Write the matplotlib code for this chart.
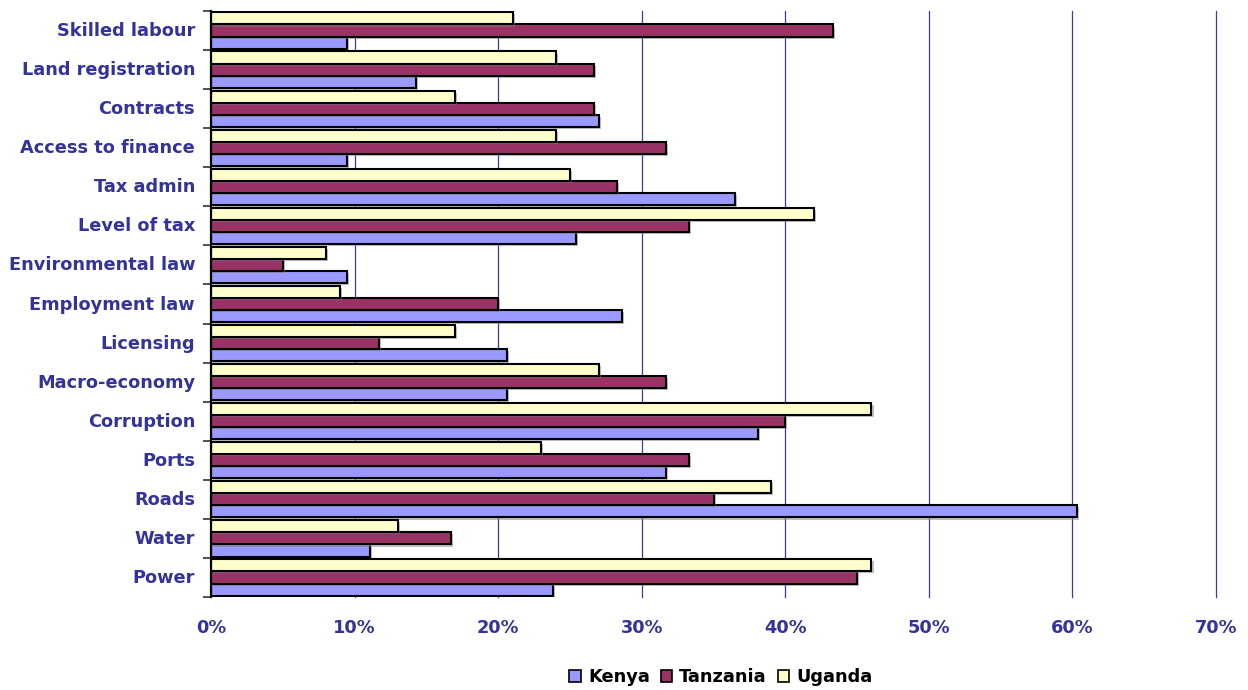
import matplotlib
matplotlib.use("Agg")
import matplotlib.pyplot as plt
import matplotlib.patheffects as pe
import matplotlib.transforms as mtransforms
from matplotlib.patches import Patch
import numpy as np

# Business constraints, share of firms citing each as a major obstacle (%)
categories = ["Power", "Water", "Roads", "Ports", "Corruption", "Macro-economy",
              "Licensing", "Employment law", "Environmental law", "Level of tax",
              "Tax admin", "Access to finance", "Contracts", "Land registration",
              "Skilled labour"]
kenya = [23.8, 11.1, 60.3, 31.7, 38.1, 20.6, 20.6, 28.6, 9.5, 25.4,
         36.5, 9.5, 27.0, 14.3, 9.5]
tanzania = [45.0, 16.7, 35.0, 33.3, 40.0, 31.7, 11.7, 20.0, 5.0, 33.3,
            28.3, 31.7, 26.7, 26.7, 43.3]
uganda = [46, 13, 39, 23, 46, 27, 17, 9, 8, 42, 25, 24, 17, 24, 21]
series_names = ["Kenya", "Tanzania", "Uganda"]
series_colors = ["#9999FF", "#993366", "#FFFFCC"]
x_ticks = [0, 10, 20, 30, 40, 50, 60, 70]

label_color = "#333399"
font = "DejaVu Sans"
fsize = 12.8

fig = plt.figure(figsize=(12.48, 6.9), dpi=100)
ax = fig.add_axes([211 / 1248, 1 - 597 / 690, (1216 - 211) / 1248, (597 - 11) / 690])

y = np.arange(len(categories))
h = 0.31
shadow = [pe.SimplePatchShadow(offset=(1.5, -1.5), shadow_rgbFace="#808080", alpha=0.5),
          pe.Normal()]
for vals, off, col in [(kenya, -h, series_colors[0]),
                       (tanzania, 0.0, series_colors[1]),
                       (uganda, h, series_colors[2])]:
    bars = ax.barh(y + off, vals, height=h, color=col, edgecolor="black",
                   linewidth=1.5, zorder=3)
    for b in bars:
        b.set_path_effects(shadow)

ax.set_xlim(0, 70)
ax.set_ylim(-0.5, len(categories) - 0.5)

# vertical gridlines
for t in x_ticks[1:]:
    ax.axvline(t, color="#3A3AA8", linewidth=0.9, zorder=1, clip_on=False)

ax.set_xticks(x_ticks)
ax.set_xticklabels([f"{t}%" for t in x_ticks])
ax.tick_params(axis="x", length=0, pad=16, labelsize=fsize, labelcolor=label_color)
for lab in ax.get_xticklabels():
    lab.set_fontweight("bold")
    lab.set_family(font)

# category labels at centres, tick marks at boundaries
ax.set_yticks(y)
ax.set_yticklabels(categories)
ax.tick_params(axis="y", which="major", length=0, pad=11.5, labelsize=fsize,
               labelcolor=label_color)
lift = mtransforms.ScaledTranslation(0, 1.5 / 100, fig.dpi_scale_trans)
for lab in ax.get_yticklabels():
    lab.set_fontweight("bold")
    lab.set_family(font)
    lab.set_transform(lab.get_transform() + lift)
ax.set_yticks(np.arange(len(categories) + 1) - 0.5, minor=True)
ax.tick_params(axis="y", which="minor", length=6, width=1.2, color="#333333",
               direction="out")

for s in ["top", "right", "bottom"]:
    ax.spines[s].set_visible(False)
ax.spines["left"].set_linewidth(1.6)
ax.spines["left"].set_color("black")
ax.spines["left"].set_zorder(4)

handles = [Patch(facecolor=c, edgecolor="black", linewidth=1.2) for c in series_colors]
leg = fig.legend(handles, series_names, loc="center", bbox_to_anchor=(721 / 1248, 1 - 677 / 690),
                 ncol=3, frameon=False, handlelength=0.65, handleheight=0.65,
                 handletextpad=0.4, columnspacing=0.6,
                 prop={"family": font, "weight": "bold", "size": 12.8})

fig.savefig("out.png", dpi=100, facecolor="white")
